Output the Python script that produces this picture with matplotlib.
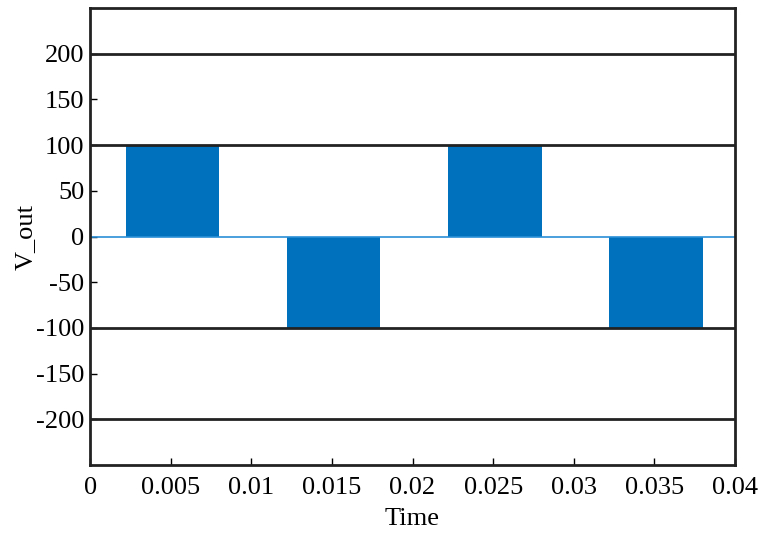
import numpy as np
import matplotlib
matplotlib.use("Agg")
from matplotlib import pyplot as plt

# quasi-square output voltage: switching instants and levels
t_edges = [0, 0.0022, 0.008, 0.0122, 0.018, 0.0222, 0.028, 0.0322, 0.038, 0.04]
v_levels = [0, 100, 0, -100, 0, 100, 0, -100, 0]
yticks = [-200, -150, -100, -50, 0, 50, 100, 150, 200]
ylabels = ['-200', '-150', '-100', '-50', '0', '50', '100', '150', '200']
xticks = [0, 0.005, 0.01, 0.015, 0.02, 0.025, 0.03, 0.035, 0.04]
xlabels = ['0', '0.005', '0.01', '0.015', '0.02', '0.025', '0.03', '0.035', '0.04']
grid_levels = [-200, -100, 100, 200]

plt.rcParams['font.family'] = ['Liberation Serif', 'DejaVu Serif']
blue = '#0072BD'

fig = plt.figure(figsize=(7.64, 5.40), dpi=100)
ax = fig.add_axes([0.118, 0.139, 0.844, 0.846])

t = np.array(t_edges)
v = np.array(v_levels + [v_levels[-1]])
ax.fill_between(t, 0, v, step='post', color=blue, lw=0, zorder=1)
ax.axhline(0, color='#2a8fd6', lw=1.2, zorder=2)
for g in grid_levels:
    ax.axhline(g, color='#222222', lw=2, zorder=3)

ax.set_xlim(0, 0.04)
ax.set_ylim(-250, 250)
ax.set_yticks(yticks)
ax.set_yticklabels(ylabels)
ax.set_xticks(xticks)
ax.set_xticklabels(xlabels)
ax.tick_params(direction='in', length=5, width=1, labelsize=19, top=False, right=False)
ax.tick_params(axis='x', pad=9)
ax.tick_params(axis='y', pad=4)
for s in ax.spines.values():
    s.set_linewidth(2)
    s.set_color('#222222')
ax.set_xlabel('Time', fontsize=19, labelpad=6)
ax.set_ylabel('V_out', fontsize=19, labelpad=0)

fig.savefig('out.png', dpi=100)
